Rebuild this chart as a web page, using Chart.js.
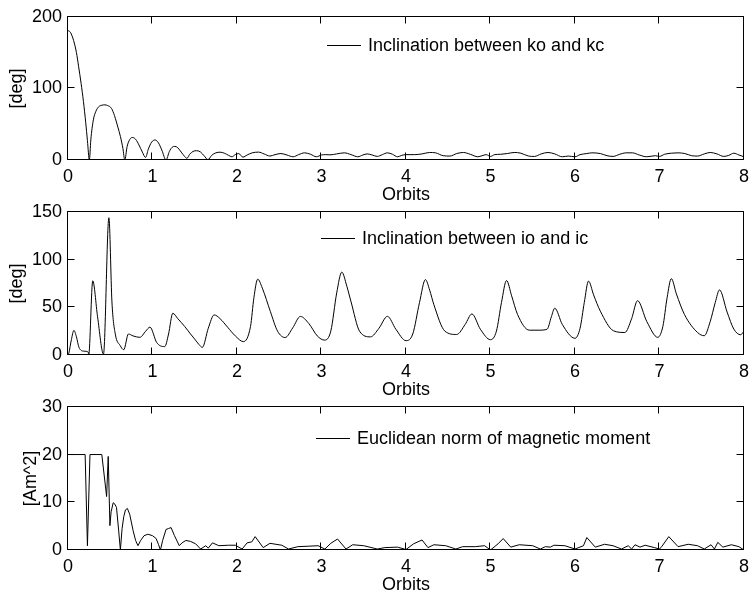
<!DOCTYPE html>
<html>
<head>
<meta charset="utf-8">
<script src="https://cdn.jsdelivr.net/npm/chart.js@4.4.1/dist/chart.umd.min.js"></script>
<style>
  html, body { margin: 0; padding: 0; background: #fff; }
  #wrap { position: relative; width: 755px; height: 596px; overflow: hidden; }
  #wrap canvas { position: absolute; left: 0; }
</style>
</head>
<body>
<div id="wrap">
  <canvas id="koChart" width="755" height="206" style="top:0px"></canvas>
  <canvas id="ioChart" width="755" height="206" style="top:195px"></canvas>
  <canvas id="momChart" width="755" height="206" style="top:390px"></canvas>
</div>
<script>
// orbit axis ticks
const orbitTicks = [0, 1, 2, 3, 4, 5, 6, 7, 8];

// inclination between ko and kc [deg]
const koOrbits = [0, 0.03, 0.066, 0.1, 0.125, 0.155, 0.183, 0.21, 0.23, 0.253,
  0.27, 0.3, 0.33, 0.36, 0.4, 0.437, 0.47, 0.515, 0.55, 0.59, 0.62, 0.65, 0.672,
  0.7, 0.73, 0.76, 0.8, 0.84, 0.88, 0.918, 0.95, 0.99, 1.03, 1.07, 1.11, 1.16,
  1.2, 1.23, 1.266, 1.3, 1.34, 1.38, 1.407, 1.44, 1.48, 1.524, 1.57, 1.61, 1.657,
  1.7, 1.75, 1.8, 1.85, 1.9, 1.94, 1.98, 2.02, 2.07, 2.12, 2.18, 2.255, 2.32, 2.39,
  2.45, 2.52, 2.59, 2.665, 2.73, 2.8, 2.87, 2.94, 3.0, 3.05, 3.1, 3.18, 3.27, 3.35,
  3.43, 3.49, 3.54, 3.6, 3.66, 3.72, 3.78, 3.84, 3.9, 3.95, 4.0, 4.1, 4.19, 4.28,
  4.35, 4.44, 4.52, 4.6, 4.68, 4.76, 4.85, 4.9, 4.95, 5.0, 5.05, 5.12, 5.2, 5.28,
  5.36, 5.45, 5.52, 5.6, 5.68, 5.76, 5.85, 5.92, 6.0, 6.06, 6.14, 6.2, 6.3, 6.38,
  6.45, 6.53, 6.6, 6.68, 6.76, 6.85, 6.95, 7.0, 7.06, 7.14, 7.22, 7.3, 7.38, 7.45,
  7.53, 7.6, 7.68, 7.76, 7.82, 7.88, 7.94, 8.0];
const koDeg = [181, 178, 167, 150, 131, 107, 81.5, 52, 27, 0,
  28, 56, 68, 74, 76.5, 77, 76, 72, 62, 46, 33, 16, 0,
  19, 28.5, 31.5, 29, 21, 11, 3.6, 15, 25, 28, 24, 14, 0,
  12, 17.5, 19, 17, 11, 5, 2.3, 8, 12, 13, 11, 6, 0.5,
  6.5, 10, 10.9, 9.5, 6.5, 4.5, 7.5, 9, 4, 7, 10, 11, 8.5, 5.5,
  7.5, 9, 7, 4.5, 7.5, 10, 8, 4.5, 7, 7.5, 7.2, 8.5, 10, 7.5,
  4.5, 7, 8.5, 7, 5, 7.5, 10, 8, 4.5, 6.5, 7.5, 7.5, 8.5, 10.5,
  10, 6, 5.5, 9, 10.5, 8, 4.5, 6, 7.5, 5, 7.5, 8, 9, 10.5,
  9.5, 5.5, 5, 8.5, 10.5, 8.5, 4.5, 5.5, 4.5, 7.5, 9, 10, 9, 6,
  5, 8, 10, 10, 7, 4.5, 6, 5, 8, 9.5, 10, 9, 6, 5.5,
  8.5, 10.5, 8.5, 5, 6.5, 9.5, 7, 4.5];

// inclination between io and ic [deg]
const ioOrbits = [0, 0.01, 0.04, 0.07, 0.1, 0.13, 0.19, 0.24, 0.245, 0.293, 0.35,
  0.42, 0.484, 0.52, 0.56, 0.617, 0.66, 0.715, 0.77, 0.85, 0.92, 0.97, 1.05, 1.145,
  1.19, 1.24, 1.3, 1.38, 1.45, 1.5, 1.55, 1.59, 1.66, 1.73, 1.8, 1.89, 1.98, 2.075,
  2.16, 2.2, 2.245, 2.3, 2.395, 2.48, 2.57, 2.66, 2.75, 2.85, 2.95, 3.036, 3.11,
  3.18, 3.24, 3.3, 3.35, 3.45, 3.58, 3.68, 3.78, 3.88, 4.0, 4.08, 4.16, 4.23, 4.28,
  4.33, 4.46, 4.6, 4.7, 4.78, 4.88, 5.0, 5.07, 5.13, 5.19, 5.25, 5.32, 5.46, 5.575,
  5.67, 5.72, 5.76, 5.85, 6.0, 6.06, 6.11, 6.16, 6.22, 6.3, 6.455, 6.59, 6.67,
  6.74, 6.85, 6.98, 7.04, 7.09, 7.14, 7.2, 7.295, 7.45, 7.53, 7.6, 7.66, 7.71,
  7.8, 7.88, 7.96, 8.0];
const ioDeg = [0, 2, 16, 25.8, 19, 8, 4, 3, 0, 77.7, 40,
  1, 143.8, 55.6, 21.8, 10, 5.5, 22, 20, 18.5, 25, 29.2, 13, 8.8,
  22, 43.7, 38, 30, 22, 16.6, 11, 8, 28, 42, 38, 29, 20, 14,
  30, 60, 79.4, 70, 45.5, 25, 18.3, 28.5, 40.4, 33, 20, 15.6, 25,
  65, 86.8, 72, 55.6, 25, 19, 28, 40.5, 27, 15, 22, 55, 79, 68,
  52.7, 25, 21.5, 32, 43, 27, 16, 25, 55, 78, 62, 42.5, 26, 26,
  27, 40, 49, 32, 17.5, 28, 55, 77.4, 63, 45.9, 25.4, 23.6, 38,
  56.9, 35, 18.5, 30, 60, 80, 64, 42.5, 23.6, 20.2, 35, 55, 68.2,
  45, 27.1, 21.2, 25];

// euclidean norm of magnetic moment [Am^2]
const momOrbits = [0, 0.203, 0.23, 0.26, 0.4, 0.457, 0.476, 0.496, 0.51, 0.535,
  0.555, 0.574, 0.6, 0.62, 0.64, 0.66, 0.68, 0.703, 0.73, 0.77, 0.8, 0.828, 0.86,
  0.9, 0.945, 1.0, 1.043, 1.07, 1.094, 1.12, 1.16, 1.19, 1.22, 1.26, 1.317, 1.35,
  1.395, 1.45, 1.51, 1.57, 1.63, 1.66, 1.71, 1.785, 1.9, 1.98, 2.06, 2.12, 2.175,
  2.215, 2.31, 2.39, 2.53, 2.61, 2.72, 2.85, 2.96, 3.04, 3.11, 3.19, 3.29, 3.37,
  3.5, 3.66, 3.75, 3.9, 4.0, 4.09, 4.19, 4.26, 4.33, 4.47, 4.59, 4.67, 4.82, 4.93,
  5.0, 5.09, 5.15, 5.24, 5.34, 5.5, 5.59, 5.65, 5.71, 5.75, 5.88, 6.0, 6.1, 6.14,
  6.24, 6.35, 6.45, 6.55, 6.63, 6.67, 6.71, 6.77, 6.83, 6.94, 7.0, 7.03, 7.11,
  7.22, 7.34, 7.45, 7.53, 7.61, 7.65, 7.69, 7.75, 7.85, 7.94, 8.0];
const momNorm = [20, 20, 0.9, 20, 20, 11.2, 19.6, 5.1, 8, 9.9,
  9.6, 8.9, 4, 0, 4.5, 7, 8.4, 8.7, 7.5, 4.1, 2, 0.9, 2,
  3, 3.3, 3, 2.4, 1.2, 0, 2, 4.3, 4.5, 4.7, 3, 0.9, 1.5,
  2, 1.8, 1.3, 0.2, 0.9, 0.4, 1.5, 0.9, 1.0, 1.0, 0.2, 1.5, 1.7,
  2.8, 0.5, 1.4, 1.0, 0.2, 0.7, 0.8, 0.9, 0.2, 1.4, 2.3, 0.2, 1.1,
  0.9, 0.2, 0.5, 0.6, 0.1, 1.3, 2.1, 0.5, 1.1, 0.9, 0.2, 0.7, 0.7, 0.9,
  0, 1.3, 2.4, 0.6, 1.1, 0.9, 0.2, 0.7, 0.6, 1.0, 0.9, 0.2, 0.9, 2.6,
  0.6, 1.2, 0.9, 0.2, 0.9, 0.2, 1.1, 0.6, 1.0, 0.5, 0.2, 0.8, 2.8,
  0.7, 1.2, 0.9, 0.2, 1.1, 0.2, 1.6, 0.6, 1.1, 0.7, 0];

const FONT = '"Liberation Sans", Arial, Helvetica, sans-serif';
Chart.defaults.font.family = FONT;
Chart.defaults.font.size = 18;
Chart.defaults.color = '#000';

// box around the axes with inward tick marks on all four sides
const boxTicks = {
  id: 'boxTicks',
  afterDraw(chart) {
    const { ctx, chartArea: a, scales: { x, y } } = chart;
    const L = Math.round(a.left) - 0.5, R = Math.round(a.right) - 0.5;
    const T = Math.round(a.top) - 0.5, B = Math.round(a.bottom) - 0.5;
    const len = 7;
    ctx.save();
    ctx.strokeStyle = '#000';
    ctx.lineWidth = 1;
    ctx.beginPath();
    ctx.rect(L, T, R - L, B - T);
    x.ticks.forEach(t => {
      const px = Math.round(x.getPixelForValue(t.value)) - 0.5;
      ctx.moveTo(px, B); ctx.lineTo(px, B - len);
      ctx.moveTo(px, T); ctx.lineTo(px, T + len);
    });
    y.ticks.forEach(t => {
      const py = Math.round(y.getPixelForValue(t.value)) - 0.5;
      ctx.moveTo(L, py); ctx.lineTo(L + len, py);
      ctx.moveTo(R, py); ctx.lineTo(R - len, py);
    });
    ctx.stroke();
    ctx.restore();
  }
};

// legend entry drawn inside the axes, no box
const keyLabel = {
  id: 'keyLabel',
  afterDraw(chart, args, opts) {
    const ctx = chart.ctx;
    const label = chart.data.datasets[0].label;
    ctx.save();
    ctx.strokeStyle = '#000';
    ctx.lineWidth = 1;
    ctx.beginPath();
    ctx.moveTo(opts.x, opts.y + 0.5);
    ctx.lineTo(opts.x + 34, opts.y + 0.5);
    ctx.stroke();
    ctx.font = '18px ' + FONT;
    ctx.fillStyle = '#000';
    ctx.textBaseline = 'middle';
    ctx.fillText(label, opts.x + 41, opts.y + 1);
    ctx.restore();
  }
};

function makePlot(id, xs, ys, cfg) {
  const points = xs.map((v, i) => ({ x: v, y: ys[i] }));
  return new Chart(document.getElementById(id), {
    type: 'line',
    data: {
      datasets: [{
        label: cfg.label,
        data: points,
        borderColor: '#000',
        borderWidth: 1,
        pointRadius: 0,
        fill: false,
        tension: cfg.smooth ? 0.4 : 0,
        cubicInterpolationMode: cfg.smooth ? 'monotone' : 'default'
      }]
    },
    options: {
      responsive: false,
      animation: false,
      events: [],
      layout: { padding: { top: cfg.padTop, right: 5, bottom: 0, left: 0 } },
      plugins: {
        legend: { display: false },
        tooltip: { enabled: false },
        keyLabel: cfg.key
      },
      scales: {
        x: {
          type: 'linear',
          min: 0,
          max: 8,
          afterBuildTicks: s => { s.ticks = orbitTicks.map(v => ({ value: v })); },
          afterFit: s => { s.height = 46; },
          grid: { display: false, drawTicks: false },
          border: { display: false },
          ticks: { padding: 6, maxRotation: 0 },
          title: { display: true, text: 'Orbits', padding: { top: 0, bottom: 0 } }
        },
        y: {
          min: 0,
          max: cfg.yMax,
          afterBuildTicks: s => { s.ticks = cfg.yTicks.map(v => ({ value: v })); },
          afterFit: s => { s.width = 68; },
          grid: { display: false, drawTicks: false },
          border: { display: false },
          ticks: { padding: 6 },
          title: { display: true, text: cfg.yTitle, padding: { top: cfg.titlePad, bottom: 0 } }
        }
      }
    },
    plugins: [boxTicks, keyLabel]
  });
}

makePlot('koChart', koOrbits, koDeg, {
  label: 'Inclination between ko and kc',
  yMax: 200, yTicks: [0, 100, 200], yTitle: '[deg]', titlePad: 6,
  padTop: 13, smooth: true, key: { x: 327, y: 45 }
});
makePlot('ioChart', ioOrbits, ioDeg, {
  label: 'Inclination between io and ic',
  yMax: 150, yTicks: [0, 50, 100, 150], yTitle: '[deg]', titlePad: 6,
  padTop: 12, smooth: true, key: { x: 321, y: 43 }
});
makePlot('momChart', momOrbits, momNorm, {
  label: 'Euclidean norm of magnetic moment',
  yMax: 30, yTicks: [0, 10, 20, 30], yTitle: '[Am^2]', titlePad: 20,
  padTop: 13, smooth: false, key: { x: 316, y: 48 }
});
</script>
</body>
</html>
